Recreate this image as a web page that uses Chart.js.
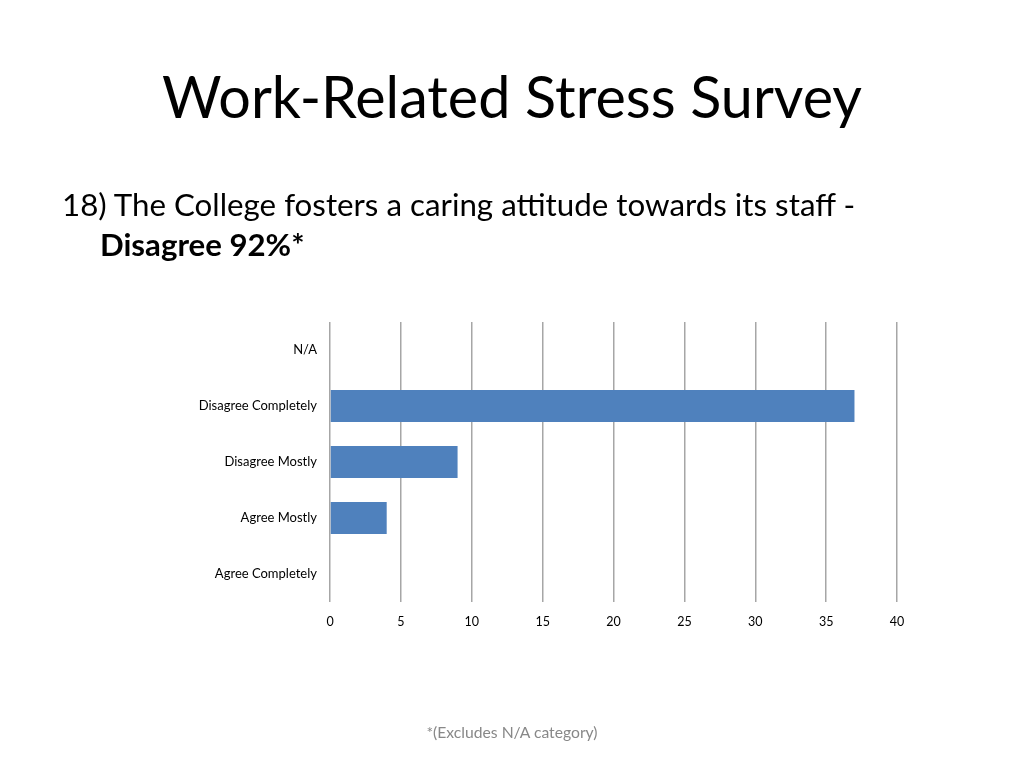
<!DOCTYPE html>
<html>
<head>
<meta charset="utf-8">
<script src="https://cdn.jsdelivr.net/npm/chart.js@4"></script>
<style>
  html, body { margin: 0; padding: 0; background: #fff; }
  body { width: 1024px; height: 768px; position: relative; overflow: hidden; font-family: Lato, "Open Sans", sans-serif; }
  #wrap { position: absolute; left: 0; top: 0; width: 1024px; height: 768px; }
  .txt { position: absolute; white-space: nowrap; color: #000; }
  #title { left: 0; width: 1024px; text-align: center; top: 61px; font-size: 57.5px; }
  #q { left: 62px; top: 185px; font-size: 31.3px; }
  #pct { left: 100px; top: 225px; font-size: 31.2px; font-weight: bold; }
  #note { left: 0; width: 1024px; text-align: center; top: 723px; font-size: 15.7px; color: #888; }
</style>
</head>
<body>
<div id="wrap"><canvas id="chart"></canvas></div>
<div class="txt" id="title">Work-Related Stress Survey</div>
<div class="txt" id="q">18) The College fosters a caring attitude towards its staff -</div>
<div class="txt" id="pct">Disagree 92%*</div>
<div class="txt" id="note">*(Excludes N/A category)</div>
<script>
// survey answers, top to bottom
const categories = ['N/A', 'Disagree Completely', 'Disagree Mostly', 'Agree Mostly', 'Agree Completely'];
const responses = [0, 37, 9, 4, 0];
const xTicks = [0, 5, 10, 15, 20, 25, 30, 35, 40];

const ctx = document.getElementById('chart').getContext('2d');

const chart = new Chart(ctx, {
  type: 'bar',
  data: {
    labels: categories,
    datasets: [
      {
        label: 'Responses',
        data: responses,
        backgroundColor: '#4F81BD',
        borderWidth: 0,
        barPercentage: 0.57,
        categoryPercentage: 1
      }
    ]
  },
  options: {
    indexAxis: 'y',
    responsive: true,
    maintainAspectRatio: false,
    animation: false,
    layout: { padding: { left: 0, right: 127, top: 322, bottom: 0 } },
    plugins: {
      legend: { display: false },
      tooltip: { enabled: false }
    },
    scales: {
      x: {
        min: 0,
        max: 40,
        afterBuildTicks: (scale) => { scale.ticks = xTicks.map(v => ({ value: v })); },
        afterFit: (scale) => { scale.height = 166; },
        border: { display: false },
        grid: { color: '#A6A6A6', lineWidth: 1.5, drawTicks: false },
        ticks: { color: '#000', padding: 12, font: { family: 'Lato', size: 12.5 } }
      },
      y: {
        afterFit: (scale) => { scale.width = 330; },
        border: { display: false },
        grid: { display: false, drawTicks: false },
        ticks: { color: '#000', padding: 13, font: { family: 'Lato', size: 13 } }
      }
    }
  }
});
</script>
</body>
</html>
